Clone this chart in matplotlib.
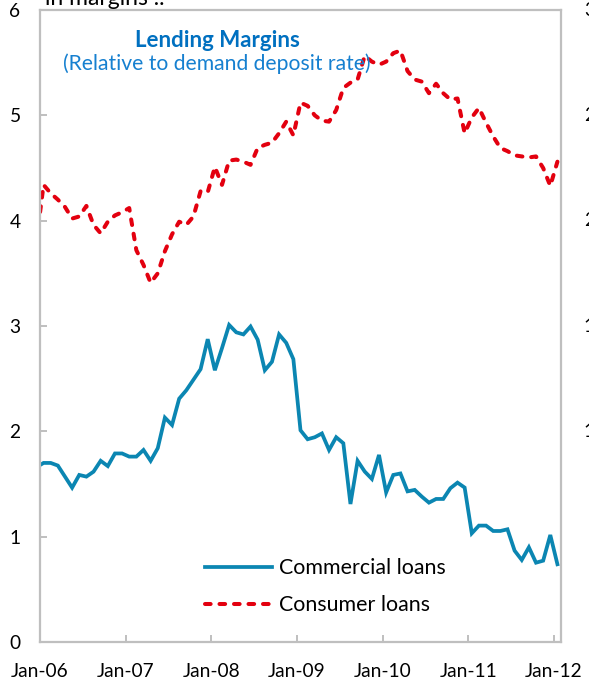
import matplotlib
matplotlib.use("Agg")
import matplotlib.pyplot as plt
import numpy as np
import pandas as pd

# ---- data (monthly, Dec-05 .. Jan-12; first point lies left of the axis and is clipped)
months = pd.period_range("2005-12", "2012-01", freq="M")
commercial = [1.66,
    1.70, 1.70, 1.675, 1.57, 1.465, 1.586, 1.57, 1.617, 1.72, 1.67, 1.79, 1.79,
    1.76, 1.76, 1.823, 1.72, 1.84, 2.13, 2.06, 2.31, 2.39, 2.49, 2.59, 2.875,
    2.58, 2.79, 3.01, 2.94, 2.92, 2.995, 2.87, 2.58, 2.66, 2.92, 2.84, 2.685,
    2.01, 1.925, 1.944, 1.98, 1.823, 1.944, 1.887, 1.31, 1.72, 1.618, 1.548, 1.776,
    1.42, 1.586, 1.60, 1.43, 1.444, 1.38, 1.323, 1.358, 1.358, 1.46, 1.513, 1.466,
    1.032, 1.105, 1.105, 1.054, 1.054, 1.07, 0.867, 0.779, 0.899, 0.753, 0.772, 1.016,
    0.738]
consumer = [3.81,
    4.34, 4.26, 4.20, 4.13, 4.02, 4.04, 4.14, 3.96, 3.88, 3.99, 4.05, 4.08,
    4.12, 3.72, 3.58, 3.41, 3.50, 3.71, 3.87, 3.99, 3.96, 4.04, 4.28, 4.27,
    4.51, 4.34, 4.57, 4.58, 4.56, 4.53, 4.69, 4.72, 4.74, 4.83, 4.94, 4.81,
    5.12, 5.09, 5.00, 4.95, 4.94, 5.05, 5.26, 5.31, 5.34, 5.565, 5.51, 5.48,
    5.51, 5.59, 5.615, 5.42, 5.34, 5.32, 5.21, 5.30, 5.21, 5.15, 5.16, 4.83,
    4.98, 5.07, 4.93, 4.80, 4.69, 4.66, 4.62, 4.61, 4.60, 4.61, 4.50, 4.33,
    4.56]
xtick_labels = ["Jan-06", "Jan-07", "Jan-08", "Jan-09", "Jan-10", "Jan-11", "Jan-12"]
yticks = [0, 1, 2, 3, 4, 5, 6]
right_panel_labels = ["30", "25", "20", "15", "10", "5", "0"]
series_names = ["Commercial loans", "Consumer loans"]
title = "Lending Margins"
subtitle = "(Relative to demand deposit rate)"
top_text = "in margins .."

plt.rcParams["font.family"] = ["Lato", "DejaVu Sans"]

W, H = 589, 685
fig = plt.figure(figsize=(W / 100, H / 100), dpi=100)
L, R, T, B = 40, 561, 10, 642
ax = fig.add_axes([L / W, 1 - B / H, (R - L) / W, (B - T) / H])

base = months[1]
x = np.array([(p - base).n for p in months]) + 0.5

blue = "#0B86B2"
red = "#E3000F"
grey = "#BFBFBF"

l1, = ax.plot(x, commercial, color=blue, lw=2.7, solid_joinstyle="miter", label=series_names[0])
l2, = ax.plot(x, consumer, color=red, lw=2.9, dashes=(1.4, 2.2), dash_capstyle="round",
              label=series_names[1])

ax.set_xlim(0, 73)
ax.set_ylim(0, 6)
ax.set_xticks(np.arange(0, 73, 12))
ax.set_xticklabels(xtick_labels)
ax.set_yticks(yticks)
ax.set_yticklabels([str(v) for v in yticks])

for s in ax.spines.values():
    s.set_color(grey)
    s.set_linewidth(1.6)
ax.tick_params(axis="both", direction="in", length=5, width=1.4, color=grey,
               labelsize=13.8, labelcolor="black")
ax.tick_params(axis="x", pad=15)
ax.tick_params(axis="y", pad=14)

ax.text(0.34, 0.9525, title, transform=ax.transAxes, ha="center", va="center",
        fontsize=16, fontweight="bold", color="#0070C0")
ax.text(0.34, 0.9146, subtitle, transform=ax.transAxes, ha="center", va="center",
        fontsize=15.2, color="#1680D0")

leg = ax.legend(handles=[l1, l2], loc="upper left",
                bbox_to_anchor=(205 / W, 1 - 558 / H), bbox_transform=fig.transFigure,
                frameon=False, fontsize=15.4, handlelength=3.15, handletextpad=0.3,
                labelspacing=0.8, borderpad=0, borderaxespad=0)

# text of the neighbouring panel, cut off by the figure edge
fig.text(45 / W, 1 - 5 / H, top_text, ha="left", va="baseline", fontsize=16.5)
for i, lab in enumerate(right_panel_labels):
    yv = 6 - i
    ypix = B - (B - T) * yv / 6
    fig.text(606 / W, 1 - ypix / H, lab, ha="right", va="center", fontsize=13.8)

fig.savefig("out.png", dpi=100)
